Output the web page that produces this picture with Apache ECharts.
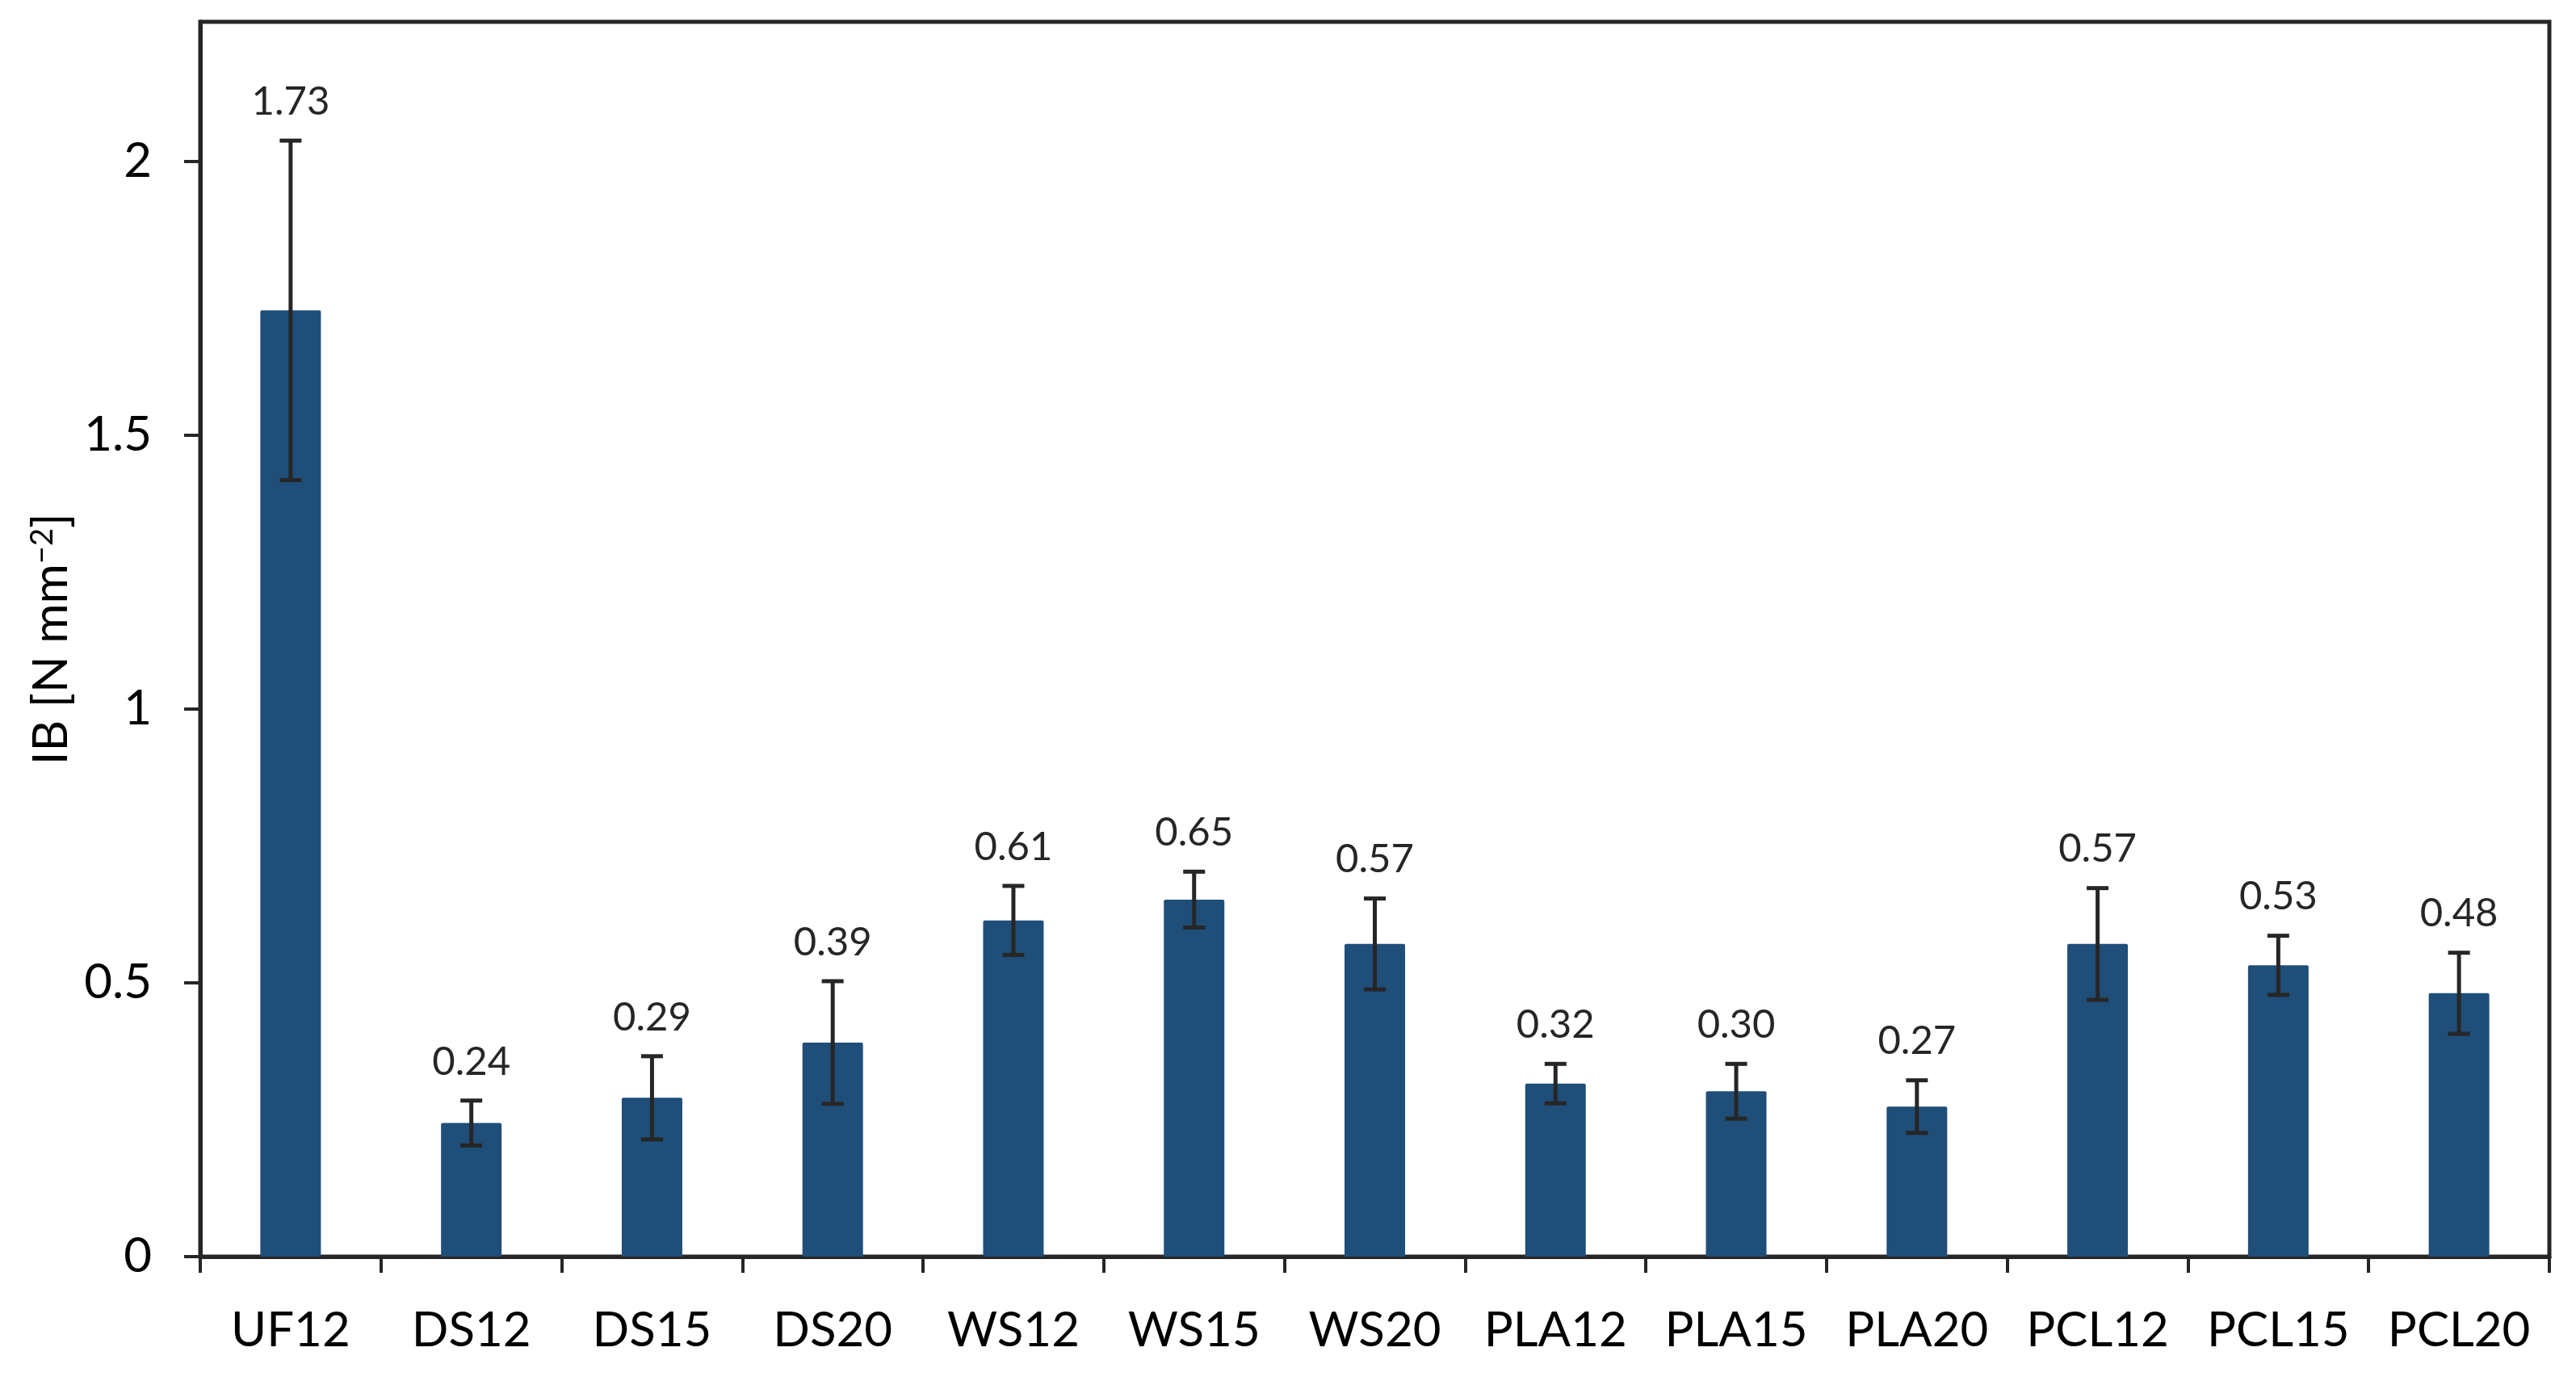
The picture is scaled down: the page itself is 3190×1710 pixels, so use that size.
<!DOCTYPE html>
<html>
<head>
<meta charset="utf-8">
<script src="https://cdn.jsdelivr.net/npm/echarts@6/dist/echarts.min.js"></script>
<style>
html,body{margin:0;padding:0;background:#fff;}
#chart{width:3190px;height:1710px;}
</style>
</head>
<body>
<div id="chart"></div>
<script>
const categories = ['UF12','DS12','DS15','DS20','WS12','WS15','WS20','PLA12','PLA15','PLA20','PCL12','PCL15','PCL20'];
const meanValues = [1.728, 0.244, 0.290, 0.391, 0.614, 0.652, 0.571, 0.316, 0.302, 0.274, 0.571, 0.532, 0.481];
const errorValues = [0.310, 0.041, 0.076, 0.112, 0.063, 0.051, 0.083, 0.036, 0.050, 0.048, 0.102, 0.054, 0.074];
const yTickValues = [0, 0.5, 1, 1.5, 2];

const AXIS_COLOR = '#262626';
const FONT = 'Lato';

const chart = echarts.init(document.getElementById('chart'));
const errData = categories.map((c, i) => [i, meanValues[i], errorValues[i]]);

chart.setOption({
  animation: false,
  backgroundColor: '#ffffff',
  grid: {
    left: 248, right: 33, top: 27, bottom: 154,
    show: true, borderColor: AXIS_COLOR, borderWidth: 5, backgroundColor: 'transparent'
  },
  xAxis: {
    type: 'category',
    data: categories,
    boundaryGap: true,
    axisLine: { show: true, lineStyle: { color: AXIS_COLOR, width: 5 } },
    axisTick: { show: true, interval: 0, length: 20, lineStyle: { color: AXIS_COLOR, width: 4 } },
    axisLabel: { interval: 0, margin: 62, color: '#000', fontFamily: FONT, fontSize: 60 },
    splitLine: { show: false }
  },
  yAxis: {
    type: 'value',
    min: 0,
    max: 2.255,
    interval: 0.5,
    name: 'IB [N mm{sup|−2}]',
    nameLocation: 'middle',
    nameGap: 150,
    nameRotate: 90,
    nameTextStyle: {
      color: '#000', fontFamily: FONT, fontSize: 60,
      rich: { sup: { fontFamily: FONT, fontSize: 38, color: '#000', verticalAlign: 'top', padding: [0, 0, 22, 0] } }
    },
    axisLine: { show: true, lineStyle: { color: AXIS_COLOR, width: 5 } },
    axisTick: { show: true, length: 20, customValues: yTickValues, lineStyle: { color: AXIS_COLOR, width: 4 } },
    axisLabel: { margin: 60, color: '#000', fontFamily: FONT, fontSize: 60, customValues: yTickValues,
      formatter: v => String(v) },
    splitLine: { show: false }
  },
  series: [
    {
      type: 'bar',
      data: meanValues,
      barWidth: 75,
      itemStyle: { color: '#1F4E79', borderRadius: [2, 2, 0, 0] },
      z: 2
    },
    {
      type: 'custom',
      data: errData,
      z: 5,
      renderItem: function (params, api) {
        const i = api.value(0), m = api.value(1), e = api.value(2);
        const top = api.coord([i, m + e]);
        const bot = api.coord([i, m - e]);
        const hw = 13.5;
        const st = { stroke: AXIS_COLOR, lineWidth: 5 };
        return {
          type: 'group',
          children: [
            { type: 'line', shape: { x1: top[0], y1: top[1], x2: bot[0], y2: bot[1] }, style: st },
            { type: 'line', shape: { x1: top[0] - hw, y1: top[1], x2: top[0] + hw, y2: top[1] }, style: st },
            { type: 'line', shape: { x1: bot[0] - hw, y1: bot[1], x2: bot[0] + hw, y2: bot[1] }, style: st },
            { type: 'text', x: top[0], y: top[1] - 48,
              style: { text: m.toFixed(2), fill: '#262626', fontFamily: FONT, fontSize: 49, align: 'center', verticalAlign: 'middle' } }
          ]
        };
      }
    }
  ]
});
</script>
</body>
</html>
